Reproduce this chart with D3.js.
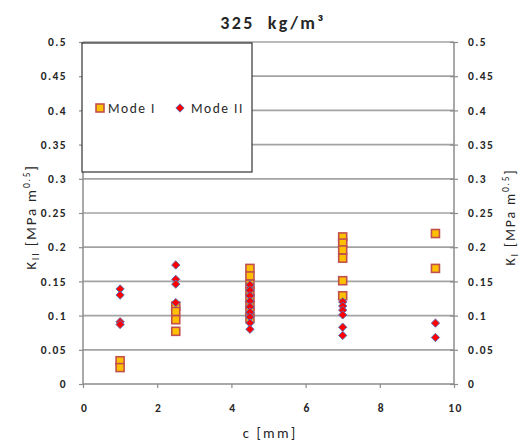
<!DOCTYPE html>
<html>
<head>
<meta charset="utf-8">
<script src="https://cdn.jsdelivr.net/npm/d3@7"></script>
<style>
  body { margin: 0; background: #fff; }
  text { font-family: Carlito, 'Liberation Sans', Arial, sans-serif; }
</style>
</head>
<body>
<div id="chart"></div>
<script>
// crack length groups [mm]
var crackLengths = [1, 2.5, 4.5, 7, 9.5];

// K_I values (Mode I), one list per crack length
var modeIValues = [
  [0.034, 0.024],
  [0.114, 0.106, 0.094, 0.077],
  [0.169, 0.158, 0.146, 0.135, 0.125, 0.115, 0.105, 0.096],
  [0.215, 0.206, 0.196, 0.184, 0.151, 0.129],
  [0.220, 0.169]
];

// K_II values (Mode II)
var modeIIValues = [
  [0.139, 0.130, 0.091, 0.087],
  [0.174, 0.153, 0.146, 0.119],
  [0.145, 0.137, 0.129, 0.121, 0.113, 0.105, 0.098, 0.089, 0.080],
  [0.120, 0.114, 0.108, 0.101, 0.083, 0.071],
  [0.089, 0.068]
];

var xTicks = [0, 2, 4, 6, 8, 10];
var yTicks = [0, 0.05, 0.1, 0.15, 0.2, 0.25, 0.3, 0.35, 0.4, 0.45, 0.5];
var seriesNames = ['Mode I', 'Mode II'];

var attrs = {
  svgWidth: 521,
  svgHeight: 442,
  plotLeft: 83,
  plotRight: 454,
  plotTop: 42,
  plotBottom: 384,
  gridColor: '#a3a3a3',
  axisColor: '#8c8c8c',
  textColor: '#262626',
  squareFill: '#ffc000',
  squareStroke: '#c0504d',
  diamondFill: '#ff0000',
  diamondStroke: '#5b6fb5'
};

var svg = d3.select('#chart').append('svg')
  .attr('width', attrs.svgWidth)
  .attr('height', attrs.svgHeight);

var x = d3.scaleLinear().domain([0, 10]).range([attrs.plotLeft, attrs.plotRight]);
var y = d3.scaleLinear().domain([0, 0.5]).range([attrs.plotBottom, attrs.plotTop]);

// flatten groups into points
function toPoints(groups) {
  var pts = [];
  groups.forEach(function (vals, i) {
    vals.forEach(function (v) { pts.push({ c: crackLengths[i], k: v }); });
  });
  return pts;
}
var modeIPoints = toPoints(modeIValues);
var modeIIPoints = toPoints(modeIIValues);

// gridlines
svg.append('g')
  .selectAll('line')
  .data(yTicks.filter(function (d) { return d > 0; }))
  .enter().append('line')
  .attr('x1', attrs.plotLeft).attr('x2', attrs.plotRight)
  .attr('y1', function (d) { return y(d); }).attr('y2', function (d) { return y(d); })
  .attr('stroke', attrs.gridColor)
  .attr('stroke-width', 1.7);

var fmt = function (d) { return String(+d.toFixed(2)); };

// left axis
var leftAxis = svg.append('g')
  .attr('transform', 'translate(' + attrs.plotLeft + ',0)')
  .call(d3.axisLeft(y).tickValues(yTicks).tickSize(4).tickPadding(12).tickFormat(fmt));

// right axis
var rightAxis = svg.append('g')
  .attr('transform', 'translate(' + attrs.plotRight + ',0)')
  .call(d3.axisRight(y).tickValues(yTicks).tickSize(4).tickPadding(10).tickFormat(fmt));
rightAxis.selectAll('.tick line').attr('x1', -4);

// bottom axis
var bottomAxis = svg.append('g')
  .attr('transform', 'translate(0,' + attrs.plotBottom + ')')
  .call(d3.axisBottom(x).tickValues(xTicks).tickSize(4).tickPadding(16));

[leftAxis, rightAxis, bottomAxis].forEach(function (ax) {
  ax.select('.domain').attr('stroke', attrs.axisColor).attr('stroke-width', 1.5);
  ax.selectAll('.tick line').attr('stroke', attrs.axisColor).attr('stroke-width', 1.2);
  ax.selectAll('.tick text')
    .attr('fill', attrs.textColor)
    .style('font-size', '11.5px')
    .style('font-weight', 'bold')
    .style('letter-spacing', '1.4px');
});
leftAxis.select('.domain').attr('d', 'M0,' + attrs.plotBottom + 'V' + attrs.plotTop);
rightAxis.select('.domain').attr('d', 'M0,' + attrs.plotBottom + 'V' + attrs.plotTop);
bottomAxis.select('.domain').attr('d', 'M' + attrs.plotLeft + ',0H' + attrs.plotRight);
bottomAxis.selectAll('.tick text').attr('dx', 1);

// markers
var squareSize = 8;
function drawSquares(g, data) {
  g.selectAll('rect.pt').data(data).enter().append('rect')
    .attr('class', 'pt')
    .attr('x', function (d) { return x(d.c) - squareSize / 2; })
    .attr('y', function (d) { return y(d.k) - squareSize / 2; })
    .attr('width', squareSize).attr('height', squareSize)
    .attr('fill', attrs.squareFill)
    .attr('stroke', attrs.squareStroke)
    .attr('stroke-width', 1.6);
}
var diamond = d3.symbol().type(d3.symbolDiamond2).size(44);
function drawDiamonds(g, data) {
  g.selectAll('path.pt').data(data).enter().append('path')
    .attr('class', 'pt')
    .attr('d', diamond)
    .attr('transform', function (d) { return 'translate(' + x(d.c) + ',' + y(d.k) + ')'; })
    .attr('fill', attrs.diamondFill)
    .attr('stroke', attrs.diamondStroke)
    .attr('stroke-width', 1);
}
drawSquares(svg.append('g'), modeIPoints);
drawDiamonds(svg.append('g'), modeIIPoints);

// legend
var legend = svg.append('g');
legend.append('rect')
  .attr('x', 82).attr('y', 43).attr('width', 170).attr('height', 129)
  .attr('fill', '#fff').attr('stroke', '#333').attr('stroke-width', 1.2);
drawSquares(legend, [{ c: x.invert(100), k: y.invert(108) }]);
drawDiamonds(legend, [{ c: x.invert(180), k: y.invert(108) }]);
legend.selectAll('text').data(seriesNames).enter().append('text')
  .attr('x', function (d, i) { return i === 0 ? 108 : 191; })
  .attr('y', 113)
  .attr('fill', attrs.textColor)
  .style('font-size', '13.5px')
  .style('letter-spacing', '1.5px')
  .text(function (d) { return d; });

// title
svg.append('text')
  .attr('x', 273).attr('y', 29)
  .attr('text-anchor', 'middle')
  .attr('fill', attrs.textColor)
  .style('font-size', '18px')
  .style('font-weight', 'bold')
  .style('letter-spacing', '2.4px')
  .style('white-space', 'pre')
  .text('325  kg/m³');

// axis titles
svg.append('text')
  .attr('x', 270).attr('y', 438)
  .attr('text-anchor', 'middle')
  .attr('fill', attrs.textColor)
  .style('font-size', '14.5px')
  .style('letter-spacing', '2.2px')
  .text('c [mm]');

function axisTitle(tx, sub, size) {
  var t = svg.append('text')
    .attr('transform', 'translate(' + tx + ',217) rotate(-90)')
    .attr('text-anchor', 'middle')
    .attr('fill', attrs.textColor)
    .style('font-size', size + 'px')
    .style('letter-spacing', '1.8px');
  t.append('tspan').text('K');
  t.append('tspan').attr('dy', 3).style('font-size', '10px').text(sub);
  t.append('tspan').attr('dy', -3).text(' [MPa m');
  t.append('tspan').attr('dy', -6).style('font-size', '9.5px').text('0.5');
  t.append('tspan').attr('dy', 6).text(']');
}
axisTitle(36, 'II', 15);
axisTitle(515, 'I', 14);
</script>
</body>
</html>
